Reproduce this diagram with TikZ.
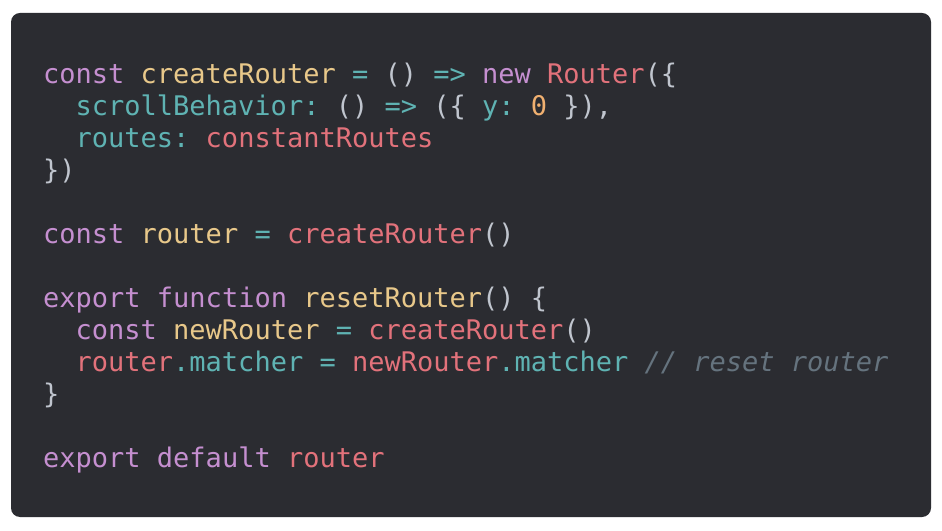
\documentclass[tikz,border=0pt]{standalone}
\usepackage{fontspec}
\setmonofont{DejaVu Sans Mono}
\definecolor{bgc}{HTML}{2B2C31}
\definecolor{kwc}{HTML}{C58FD0}
\definecolor{fnc}{HTML}{E8C88A}
\definecolor{opc}{HTML}{5FB3B3}
\definecolor{vrc}{HTML}{E2727B}
\definecolor{plc}{HTML}{C0C5CE}
\definecolor{nmc}{HTML}{F0B070}
\definecolor{cmc}{HTML}{65737E}
\newcommand\cKw[1]{\textcolor{kwc}{#1}}
\newcommand\cFn[1]{\textcolor{fnc}{#1}}
\newcommand\cOp[1]{\textcolor{opc}{#1}}
\newcommand\cVr[1]{\textcolor{vrc}{#1}}
\newcommand\cNm[1]{\textcolor{nmc}{#1}}
\newcommand\cCm[1]{\textcolor{cmc}{\itshape #1}}
\begin{document}
\begin{tikzpicture}[x=1pt,y=1pt,
  code/.style={anchor=base west,inner sep=0pt,text=plc,font=\ttfamily\fontsize{27}{32}\selectfont}]
\useasboundingbox (0,0) rectangle (942,530);
\fill[white] (0,0) rectangle (942,530);
\fill[bgc,rounded corners=9pt] (11,13) rectangle (931,517);
\node[code] (l1) at (43,446) {\cKw{const} \cFn{createRouter} \cOp{=} () \cOp{=>} \cKw{new} \cVr{Router}(\{};
\node[code] (l2) at (75.5,414) {\cOp{scrollBehavior:} () \cOp{=>} (\{ \cOp{y:} \cNm{0} \}),};
\node[code] (l3) at (75.5,382) {\cOp{routes:} \cVr{constantRoutes}};
\node[code] (l4) at (43,350) {\})};
\node[code] (l5) at (43,286) {\cKw{const} \cFn{router} \cOp{=} \cVr{createRouter}()};
\node[code] (l6) at (43,222) {\cKw{export} \cKw{function} \cFn{resetRouter}() \{};
\node[code] (l7) at (75.5,190) {\cKw{const} \cFn{newRouter} \cOp{=} \cVr{createRouter}()};
\node[code] (l8) at (75.5,158) {\cVr{router}\cOp{.matcher} \cOp{=} \cVr{newRouter}\cOp{.matcher} \cCm{// reset router}};
\node[code] (l9) at (43,126) {\}};
\node[code] (l10) at (43,62) {\cKw{export} \cKw{default} \cVr{router}};
\end{tikzpicture}
\end{document}
